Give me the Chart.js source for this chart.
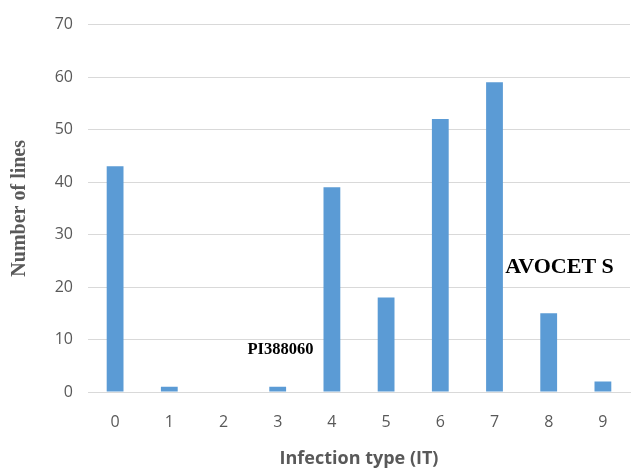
<!DOCTYPE html>
<html>
<head>
<meta charset="utf-8">
<script src="https://cdn.jsdelivr.net/npm/chart.js@4/dist/chart.umd.min.js"></script>
<style>
  html, body { margin: 0; padding: 0; background: #fff; }
  #wrap { width: 634px; height: 474px; }
</style>
</head>
<body>
<div id="wrap"><canvas id="chart" width="634" height="474"></canvas></div>
<script>
// data
const infectionTypes = ['0', '1', '2', '3', '4', '5', '6', '7', '8', '9'];
const numberOfLines = [43, 1, 0, 1, 39, 18, 52, 59, 15, 2];
const yTicks = [0, 10, 20, 30, 40, 50, 60, 70];

// text notes placed on the plot (category position, value)
const notes = [
  { text: 'PI388060', x: 3.05, y: 8, size: 16.5 },
  { text: 'AVOCET S', x: 8.2, y: 23.8, size: 22 }
];

const notesPlugin = {
  id: 'notes',
  afterDatasetsDraw(chart) {
    const ctx = chart.ctx;
    const xs = chart.scales.x;
    const ys = chart.scales.y;
    ctx.save();
    ctx.fillStyle = '#000';
    ctx.textAlign = 'center';
    ctx.textBaseline = 'middle';
    notes.forEach(n => {
      ctx.font = 'bold ' + n.size + 'px "Liberation Serif", "DejaVu Serif", serif';
      ctx.fillText(n.text, xs.getPixelForValue(n.x), ys.getPixelForValue(n.y));
    });
    ctx.restore();
  }
};

const tickFont = { family: '"Liberation Sans Narrow", "Open Sans", sans-serif', size: 16 };

new Chart(document.getElementById('chart').getContext('2d'), {
  type: 'bar',
  data: {
    labels: infectionTypes,
    datasets: [{
      data: numberOfLines,
      backgroundColor: '#5b9bd5',
      borderWidth: 0,
      barPercentage: 0.62,
      categoryPercentage: 0.5
    }]
  },
  options: {
    responsive: false,
    animation: false,
    layout: { padding: { top: 14, right: 4, left: 0, bottom: 0 } },
    plugins: {
      legend: { display: false },
      tooltip: { enabled: false }
    },
    scales: {
      x: {
        grid: { display: false, drawTicks: false },
        border: { display: true, color: '#d9d9d9', width: 1 },
        ticks: { color: '#595959', font: tickFont, padding: 21 },
        title: {
          display: true,
          text: 'Infection type (IT)',
          color: '#595959',
          font: { family: '"Liberation Sans Narrow", "Open Sans", sans-serif', size: 18, weight: 'bold' },
          padding: { top: 4, bottom: 4 }
        },
        afterFit(scale) { scale.height = 82; }
      },
      y: {
        min: 0,
        max: 70,
        afterBuildTicks(scale) { scale.ticks = yTicks.map(v => ({ value: v })); },
        grid: { color: '#d9d9d9', drawTicks: false },
        border: { display: false },
        ticks: { color: '#595959', font: tickFont, padding: 15 },
        title: {
          display: true,
          text: 'Number of lines',
          color: '#595959',
          font: { family: '"Liberation Serif", "DejaVu Serif", serif', size: 20, weight: 'bold' },
          padding: { top: 8, bottom: 0 }
        },
        afterFit(scale) { scale.width = 88; }
      }
    }
  },
  plugins: [notesPlugin]
});
</script>
</body>
</html>
